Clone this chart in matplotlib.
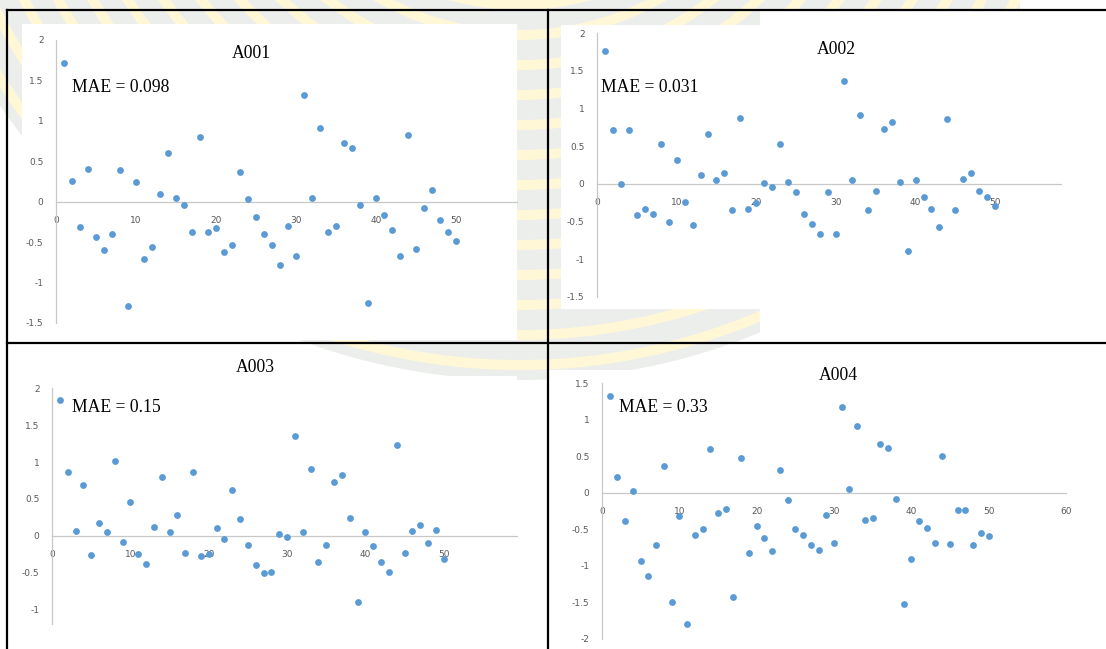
import matplotlib
matplotlib.use("Agg")
import matplotlib.pyplot as plt
from matplotlib.patches import Circle, Rectangle
from matplotlib.ticker import FuncFormatter

W, H = 1106, 649

# residuals per station, x = 1..50
idx = list(range(1, 51))
a001 = [1.72, 0.26, -0.31, 0.40, -0.44, -0.60, -0.40, 0.39, -1.29, 0.24,
        -0.71, -0.56, 0.10, 0.60, 0.05, -0.04, -0.38, 0.80, -0.38, -0.33,
        -0.62, -0.53, 0.37, 0.03, -0.19, -0.40, -0.53, -0.78, -0.30, -0.67,
        1.32, 0.05, 0.91, -0.37, -0.30, 0.73, 0.67, -0.04, -1.25, 0.05,
        -0.17, -0.35, -0.67, 0.83, -0.58, -0.08, 0.14, -0.22, -0.37, -0.48]
a002 = [1.76, 0.72, 0.00, 0.72, -0.42, -0.33, -0.40, 0.53, -0.51, 0.32,
        -0.24, -0.55, 0.12, 0.66, 0.05, 0.14, -0.35, 0.87, -0.33, -0.26,
        0.01, -0.04, 0.53, 0.03, -0.11, -0.40, -0.53, -0.67, -0.11, -0.67,
        1.36, 0.05, 0.91, -0.35, -0.10, 0.73, 0.82, 0.03, -0.89, 0.05,
        -0.17, -0.33, -0.57, 0.86, -0.35, 0.07, 0.15, -0.10, -0.17, -0.30]
a003 = [1.84, 0.87, 0.06, 0.69, -0.26, 0.17, 0.05, 1.01, -0.08, 0.46,
        -0.24, -0.38, 0.12, 0.80, 0.05, 0.28, -0.23, 0.87, -0.28, -0.25,
        0.10, -0.05, 0.62, 0.23, -0.13, -0.40, -0.51, -0.49, 0.03, -0.01,
        1.36, 0.05, 0.90, -0.35, -0.12, 0.73, 0.82, 0.24, -0.90, 0.05,
        -0.14, -0.35, -0.49, 1.23, -0.23, 0.06, 0.15, -0.10, 0.08, -0.31]
a004 = [1.33, 0.22, -0.39, 0.03, -0.93, -1.14, -0.72, 0.37, -1.49, -0.31,
        -1.79, -0.57, -0.50, 0.60, -0.28, -0.22, -1.43, 0.48, -0.82, -0.46,
        -0.62, -0.80, 0.31, -0.10, -0.50, -0.57, -0.72, -0.78, -0.30, -0.68,
        1.18, 0.05, 0.91, -0.37, -0.35, 0.67, 0.62, -0.09, -1.52, -0.91,
        -0.39, -0.48, -0.68, 0.51, -0.70, -0.24, -0.24, -0.72, -0.55, -0.59]

titles = ["A001", "A002", "A003", "A004"]
maes = ["MAE = 0.098", "MAE = 0.031", "MAE = 0.15", "MAE = 0.33"]
xmaxs = [57.6, 58.2, 59.3, 60]
ylims = [(-1.5, 2), (-1.5, 2), (-1.2, 2), (-2, 1.5)]
yticks = [[-1.5, -1, -0.5, 0, 0.5, 1, 1.5, 2],
          [-1.5, -1, -0.5, 0, 0.5, 1, 1.5, 2],
          [-1, -0.5, 0, 0.5, 1, 1.5, 2],
          [-2, -1.5, -1, -0.5, 0, 0.5, 1, 1.5]]
xticks = [[0, 10, 20, 30, 40, 50], [0, 10, 20, 30, 40, 50],
          [0, 10, 20, 30, 40, 50], [0, 10, 20, 30, 40, 50, 60]]

# pixel boxes (left, top, right, bottom) of each plot area
boxes = [(56, 40, 517, 323), (597, 33.3, 1060.5, 296.7),
         (52, 388.3, 516.7, 624.3), (602, 383.3, 1066, 639)]
title_pos = [(251, 53), (836, 50), (255, 368), (838, 375)]
mae_pos = [(72, 88), (601, 87), (72, 408), (619, 408)]
white_rects = [(22, 24, 517, 340), (561, 25, 1106, 309),
               (8, 376, 517, 649), (548, 370, 1106, 649), (760, 10, 1106, 649)]

BLUE = "#5B9BD5"
GREY_TXT = "#595959"


def px_axes(fig, box):
    l, t, r, b = box
    return fig.add_axes([l / W, 1 - b / H, (r - l) / W, (b - t) / H])


def main():
    fig = plt.figure(figsize=(W / 100, H / 100), dpi=100)

    # faint watermark behind the table
    bg = fig.add_axes([0, 0, 1, 1], zorder=-5)
    bg.set_xlim(0, W)
    bg.set_ylim(H, 0)
    bg.axis("off")
    clip = Rectangle((0, 0), 1020, 400, transform=bg.transData)
    radii = list(range(630, 240, -10))
    for i, r in enumerate(radii):
        col = "#fff7d6" if i % 3 == 1 else "#eceeec"
        c = Circle((520, -250), r, color=col, lw=0)
        bg.add_patch(c)
        c.set_clip_path(clip)
    c = Circle((520, -250), 240, color="#eceeec", lw=0)
    bg.add_patch(c)
    c.set_clip_path(clip)
    for (x0, y0, x1, y1) in white_rects:
        bg.add_patch(Rectangle((x0, y0), x1 - x0, y1 - y0, color="white", lw=0))
    # table borders
    bg.plot([7, 1106], [10, 10], color="black", lw=1.6)
    bg.plot([7, 1106], [343, 343], color="black", lw=1.6)
    bg.plot([7, 7], [10, 649], color="black", lw=1.6)
    bg.plot([548, 548], [10, 649], color="black", lw=1.6)

    series = [a001, a002, a003, a004]
    for k in range(4):
        ax = px_axes(fig, boxes[k])
        ax.set_facecolor("none")
        ax.scatter(idx, series[k], s=24, color=BLUE, lw=0, clip_on=False, zorder=3)
        ax.set_xlim(0, xmaxs[k])
        ax.set_ylim(*ylims[k])
        ax.set_xticks(xticks[k])
        ax.set_yticks(yticks[k])
        fmt = FuncFormatter(lambda v, p: "{:g}".format(v))
        ax.xaxis.set_major_formatter(fmt)
        ax.yaxis.set_major_formatter(fmt)
        for s in ["top", "right"]:
            ax.spines[s].set_visible(False)
        ax.spines["bottom"].set_position(("data", 0))
        ax.spines["bottom"].set_color("#c8c8c8")
        ax.spines["left"].set_color("#c8c8c8")
        ax.spines["bottom"].set_linewidth(0.9)
        ax.spines["left"].set_linewidth(0.9)
        ax.tick_params(axis="x", length=0, pad=10, labelsize=6.5, labelcolor=GREY_TXT)
        ax.tick_params(axis="y", length=0, pad=9, labelsize=6.5, labelcolor=GREY_TXT)

        tx, ty = title_pos[k]
        fig.text(tx / W, 1 - ty / H, titles[k], ha="center", va="center",
                 family="Liberation Serif", fontsize=12.7)
        mx, my = mae_pos[k]
        fig.text(mx / W, 1 - my / H, maes[k], ha="left", va="center",
                 family="Liberation Serif", fontsize=12.7)

    fig.savefig("out.png", dpi=100)


if __name__ == "__main__":
    main()
